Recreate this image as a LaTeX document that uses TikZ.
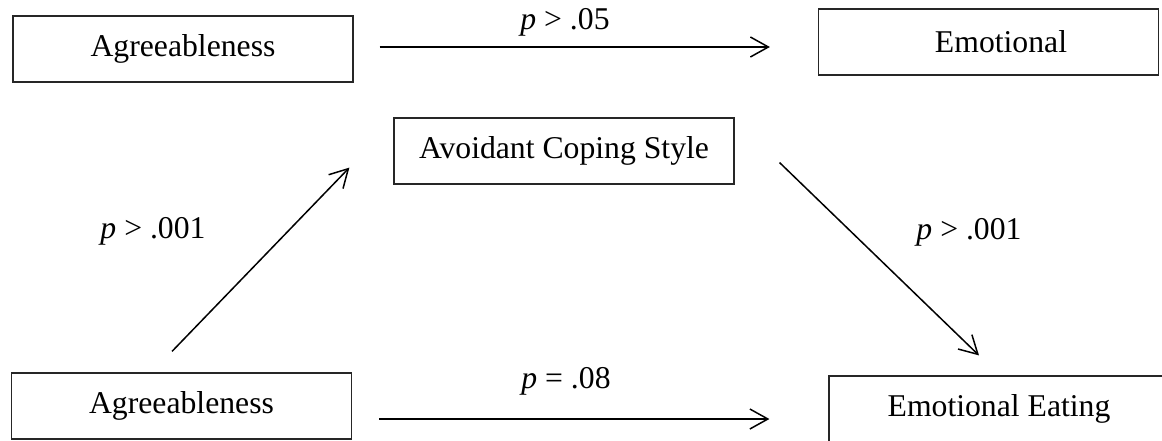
\documentclass[tikz,border=0pt]{standalone}
\usepackage{fontspec}
\setmainfont{Liberation Serif}
\usetikzlibrary{arrows.meta}
\begin{document}
\begin{tikzpicture}[x=0.5pt,y=-0.5pt,
  box/.style={draw=black!85,line width=0.6pt,minimum width=170pt,minimum height=33pt,inner sep=0pt,font=\fontsize{15.85}{19}\selectfont},
  lbl/.style={anchor=base,inner sep=0pt,font=\fontsize{15.85}{19}\selectfont},
  arr/.style={draw=black,line width=0.75pt,-{Straight Barb[length=9pt,width=10pt,line width=0.75pt]}}]
\useasboundingbox (0,0) rectangle (1162,440);
\clip (0,0) rectangle (1162,440);
\node[box] (a1) at (183,49) {Agreeableness};
\node[box] (e1) at (988.5,42) {\hspace*{12.5pt}Emotional};
\node[box] (m) at (564,151) {Avoidant Coping Style};
\node[box] (b1) at (181.5,406) {Agreeableness};
\node[box] (e2) at (999,409) {Emotional Eating};
\draw[arr] ([shift={(26,-2)}]a1.east) -- ([shift={(-48,5)}]e1.west);
\draw[arr] ([shift={(27,13)}]b1.east) -- ([shift={(-59,10)}]e2.west);
\draw[arr] ([shift={(-9.5,-21)}]b1.north) -- ([shift={(-44,-17)}]m.south west);
\draw[arr] ([shift={(45,-22)}]m.south east) -- ([shift={(-20,-20)}]e2.north);
\node[lbl] (l1) at (565,29) {\textit{p} > .05};
\node[lbl] (l2) at (566,388) {\textit{p} = .08};
\node[lbl] (l3) at (153,238) {\textit{p} > .001};
\node[lbl] (l4) at (969,239) {\textit{p} > .001};
\end{tikzpicture}
\end{document}
